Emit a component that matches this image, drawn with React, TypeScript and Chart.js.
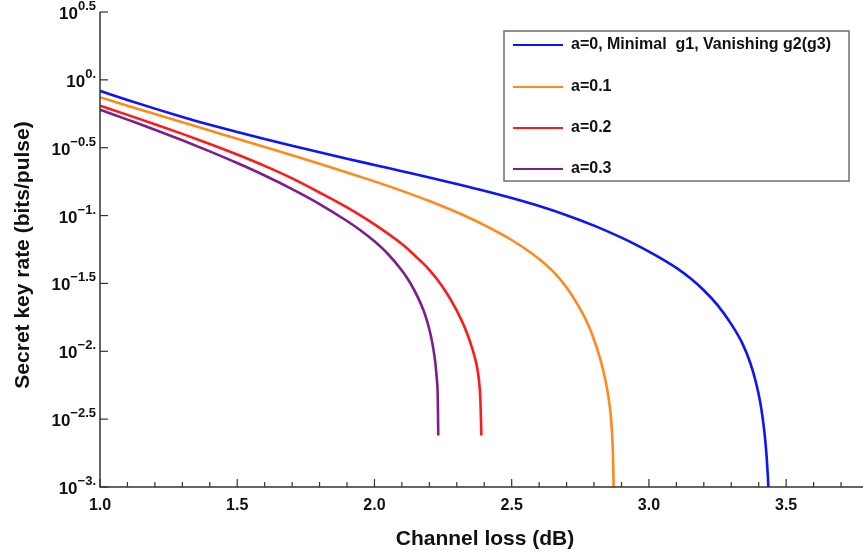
import { useEffect, useRef } from "react";
import { Chart, registerables } from "chart.js";

Chart.register(...registerables);

// Channel loss (dB) and log10 of secret key rate (bits/pulse)
const blueX = [1.0, 1.1, 1.2, 1.3, 1.4, 1.5, 1.6, 1.7, 1.8, 1.9, 2.0, 2.1, 2.2, 2.3, 2.4, 2.5, 2.6, 2.7, 2.8, 2.9, 2.95, 3.0, 3.05, 3.1, 3.15, 3.2, 3.25, 3.3, 3.34, 3.37, 3.39, 3.405, 3.415, 3.423, 3.429, 3.433, 3.436];
const blueLog = [-0.081, -0.148, -0.212, -0.273, -0.33, -0.384, -0.436, -0.486, -0.534, -0.581, -0.627, -0.673, -0.719, -0.767, -0.817, -0.871, -0.93, -0.997, -1.074, -1.163, -1.212, -1.265, -1.322, -1.385, -1.46, -1.55, -1.66, -1.8, -1.94, -2.09, -2.23, -2.37, -2.5, -2.64, -2.78, -2.91, -3.03];

const orangeX = [1.0, 1.1, 1.2, 1.3, 1.4, 1.5, 1.6, 1.7, 1.8, 1.9, 2.0, 2.1, 2.2, 2.3, 2.4, 2.5, 2.6, 2.65, 2.7, 2.75, 2.78, 2.8, 2.82, 2.835, 2.847, 2.856, 2.862, 2.866, 2.869, 2.8715];
const orangeLog = [-0.128, -0.19, -0.252, -0.313, -0.374, -0.434, -0.495, -0.556, -0.618, -0.682, -0.748, -0.818, -0.893, -0.976, -1.07, -1.18, -1.32, -1.41, -1.53, -1.69, -1.81, -1.915, -2.04, -2.155, -2.27, -2.385, -2.5, -2.62, -2.76, -3.0];

const redX = [1.0, 1.1, 1.2, 1.3, 1.4, 1.5, 1.6, 1.7, 1.8, 1.9, 2.0, 2.1, 2.15, 2.2, 2.25, 2.3, 2.33, 2.35, 2.365, 2.374, 2.381, 2.386, 2.3895];
const redLog = [-0.19, -0.258, -0.327, -0.398, -0.472, -0.55, -0.634, -0.726, -0.83, -0.94, -1.065, -1.21, -1.3, -1.4, -1.53, -1.7, -1.83, -1.94, -2.04, -2.12, -2.22, -2.36, -2.62];

const purpleX = [1.0, 1.1, 1.2, 1.3, 1.4, 1.5, 1.6, 1.7, 1.8, 1.9, 1.95, 2.0, 2.05, 2.1, 2.13, 2.16, 2.18, 2.195, 2.207, 2.216, 2.222, 2.227, 2.2305, 2.2325];
const purpleLog = [-0.22, -0.293, -0.367, -0.445, -0.527, -0.613, -0.705, -0.805, -0.915, -1.04, -1.11, -1.19, -1.285, -1.405, -1.495, -1.61, -1.705, -1.8, -1.9, -2.0, -2.09, -2.2, -2.33, -2.62];

const seriesNames = ["a=0, Minimal  g1, Vanishing g2(g3)", "a=0.1", "a=0.2", "a=0.3"];
const seriesColors = ["#0a14ff", "#ff8a1c", "#ff1a1a", "#7a1f8c"];

const xMajorTicks = [1.0, 1.5, 2.0, 2.5, 3.0, 3.5];
const xMajorLabels = ["1.0", "1.5", "2.0", "2.5", "3.0", "3.5"];
const xMinorTicks = [1.1, 1.2, 1.3, 1.4, 1.6, 1.7, 1.8, 1.9, 2.1, 2.2, 2.3, 2.4, 2.6, 2.7, 2.8, 2.9, 3.1, 3.2, 3.3, 3.4, 3.6, 3.7];
const yTickExps = [0.5, 0, -0.5, -1, -1.5, -2, -2.5, -3];
const yTickExpLabels = ["0.5", "0.", "\u22120.5", "\u22121.", "\u22121.5", "\u22122.", "\u22122.5", "\u22123."];

const xTitle = "Channel loss (dB)";
const yTitle = "Secret key rate (bits/pulse)";

const FONT = "'Liberation Sans', Arial, sans-serif";

const axesPlugin = {
  id: "customAxes",
  afterDraw(chart: any) {
    const ctx = chart.ctx as CanvasRenderingContext2D;
    const area = chart.chartArea;
    const xs = chart.scales.x;
    const ys = chart.scales.y;
    ctx.save();
    ctx.strokeStyle = "#333";
    ctx.lineWidth = 1.5;
    ctx.beginPath();
    ctx.moveTo(area.left, area.top);
    ctx.lineTo(area.left, area.bottom);
    ctx.lineTo(area.right, area.bottom);
    ctx.stroke();

    // y ticks
    ctx.lineWidth = 1.2;
    ctx.fillStyle = "#111";
    yTickExps.forEach((e, i) => {
      const y = ys.getPixelForValue(Math.pow(10, e));
      ctx.beginPath();
      ctx.moveTo(area.left, y);
      ctx.lineTo(area.left + 8, y);
      ctx.stroke();
      const expTxt = yTickExpLabels[i];
      ctx.font = `bold 13px ${FONT}`;
      const we = ctx.measureText(expTxt).width;
      ctx.font = `bold 17px ${FONT}`;
      const wb = ctx.measureText("10").width;
      const right = area.left - 4;
      ctx.textAlign = "left";
      ctx.textBaseline = "alphabetic";
      ctx.fillText("10", right - we - wb, y + 7);
      ctx.font = `bold 13px ${FONT}`;
      ctx.fillText(expTxt, right - we, y - 2);
    });

    // x ticks
    xMajorTicks.forEach((v, i) => {
      const x = xs.getPixelForValue(v);
      ctx.beginPath();
      ctx.moveTo(x, area.bottom);
      ctx.lineTo(x, area.bottom - 8);
      ctx.stroke();
      ctx.font = `bold 16px ${FONT}`;
      ctx.textAlign = "center";
      ctx.textBaseline = "middle";
      ctx.fillText(xMajorLabels[i], x, area.bottom + 19);
    });
    xMinorTicks.forEach((v) => {
      const x = xs.getPixelForValue(v);
      ctx.beginPath();
      ctx.moveTo(x, area.bottom);
      ctx.lineTo(x, area.bottom - 5);
      ctx.stroke();
    });

    // titles
    ctx.font = `bold 21px ${FONT}`;
    ctx.textAlign = "center";
    ctx.textBaseline = "middle";
    ctx.fillText(xTitle, 485, 539);
    ctx.save();
    ctx.translate(23, 255);
    ctx.rotate(-Math.PI / 2);
    ctx.fillText(yTitle, 0, 0);
    ctx.restore();

    // legend
    const lx = 504, ly = 31, lw = 345, lh = 150;
    ctx.fillStyle = "#fff";
    ctx.fillRect(lx, ly, lw, lh);
    ctx.strokeStyle = "#6e6e6e";
    ctx.lineWidth = 1.5;
    ctx.strokeRect(lx, ly, lw, lh);
    const rows = [45, 87, 128, 169];
    seriesNames.forEach((name, i) => {
      ctx.strokeStyle = seriesColors[i];
      ctx.lineWidth = 2;
      ctx.beginPath();
      ctx.moveTo(513, rows[i]);
      ctx.lineTo(563, rows[i]);
      ctx.stroke();
      ctx.fillStyle = "#111";
      ctx.font = `bold 16px ${FONT}`;
      ctx.textAlign = "left";
      ctx.textBaseline = "middle";
      ctx.fillText(name, 571, rows[i]);
    });
    ctx.restore();
  },
};

function toPoints(xs: number[], logs: number[]) {
  return xs.map((x, i) => ({ x, y: Math.pow(10, logs[i]) }));
}

export default function App() {
  const ref = useRef<HTMLCanvasElement | null>(null);
  useEffect(() => {
    if (!ref.current) return;
    const series = [
      toPoints(blueX, blueLog),
      toPoints(orangeX, orangeLog),
      toPoints(redX, redLog),
      toPoints(purpleX, purpleLog),
    ];
    const chart = new Chart(ref.current, {
      type: "line",
      data: {
        datasets: series.map((data, i) => ({
          label: seriesNames[i],
          data,
          borderColor: seriesColors[i],
          backgroundColor: seriesColors[i],
          borderWidth: 2.6,
          pointRadius: 0,
          cubicInterpolationMode: "monotone" as const,
          fill: false,
          clip: 0,
        })),
      },
      options: {
        animation: false,
        responsive: true,
        maintainAspectRatio: false,
        layout: { padding: { left: 100, top: 12, right: 0, bottom: 68 } },
        plugins: { legend: { display: false }, tooltip: { enabled: false } },
        scales: {
          x: { type: "linear", min: 1.0, max: 3.78, display: false },
          y: { type: "logarithmic", min: 0.001, max: Math.pow(10, 0.5), display: false },
        },
      },
      plugins: [axesPlugin],
    });
    return () => chart.destroy();
  }, []);
  return (
    <div style={{ position: "absolute", left: 0, top: 0, width: 863, height: 555, background: "#fff" }}>
      <canvas ref={ref} />
    </div>
  );
}
